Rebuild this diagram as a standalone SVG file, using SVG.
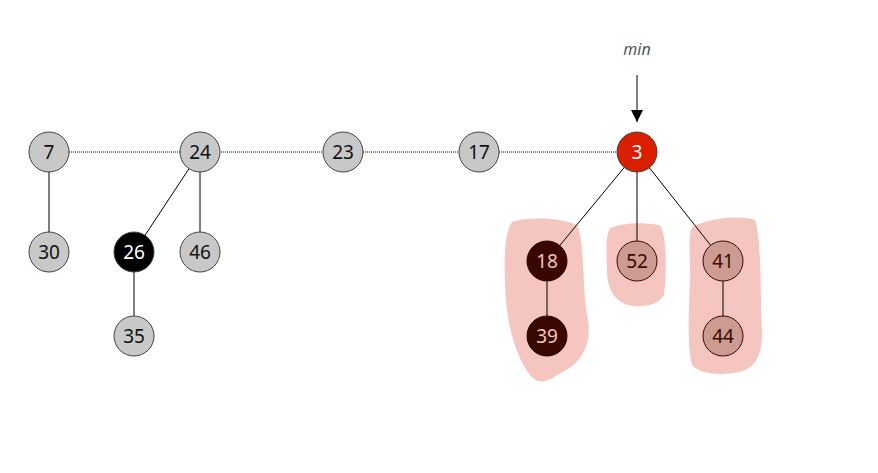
<svg xmlns="http://www.w3.org/2000/svg" width="878" height="473" viewBox="0 0 878 473">
<style>
.blob{fill:#f5c6bf;stroke:none}
.e{stroke:#000;stroke-width:1;fill:none}
.d{stroke:#000;stroke-width:1;stroke-dasharray:1 1;fill:none}
.n circle{stroke:#444;stroke-width:1}
.g circle{fill:#c8c8c8}
.n text{font-family:"Noto Sans","Open Sans",sans-serif;font-size:19px;text-anchor:middle;dominant-baseline:central}
.g text{fill:#111}
.b circle{fill:#000}
.b text{fill:#fff}
.r circle{fill:#d91f00}
.r text{fill:#fff}
.k circle{fill:#3a0700;stroke:#2a0500}
.k text{fill:#f2c6bd}
.p circle{fill:#cc9c93;stroke:#3a0700}
.p text{fill:#3a0700}
</style>
<defs>
<marker id="ah" viewBox="0 0 10 10" refX="10" refY="5" markerWidth="12" markerHeight="12" markerUnits="userSpaceOnUse" orient="auto">
<path d="M0,0 L10,5 L0,10 Z" fill="#000"/>
</marker>
</defs>
<g id="blobs">
<path class="blob" d="M512,222 C530,216 565,218 578,226 C585,250 582,290 588,320 C592,345 580,365 562,372 C550,380 540,387 530,375 C518,360 508,330 506,300 C504,270 503,235 512,222 Z"/>
<path class="blob" d="M610,228 C625,222 650,222 661,226 C668,245 666,280 664,295 C658,306 640,308 628,305 C612,300 606,285 607,265 C606,250 606,235 610,228 Z"/>
<path class="blob" d="M692,227 C710,218 740,215 755,220 C762,240 760,300 762,330 C763,355 755,368 740,372 C720,376 700,374 692,365 C686,340 690,300 690,270 C690,250 688,235 692,227 Z"/>
</g>
<g id="connectors">
<line class="d" x1="49" y1="152" x2="637" y2="152"/>
<line class="e" x1="49" y1="152" x2="49" y2="252"/>
<line class="e" x1="200" y1="152" x2="134" y2="252"/>
<line class="e" x1="200" y1="152" x2="200" y2="252"/>
<line class="e" x1="134" y1="252" x2="134" y2="336"/>
<line class="e" x1="637" y1="152" x2="547" y2="261"/>
<line class="e" x1="637" y1="152" x2="637" y2="261"/>
<line class="e" x1="637" y1="152" x2="723" y2="261"/>
<line class="e" x1="547" y1="261" x2="547" y2="336"/>
<line class="e" x1="723" y1="261" x2="723" y2="336"/>
<line class="e" x1="637" y1="75" x2="637" y2="122" marker-end="url(#ah)"/>
</g>
<text x="637" y="55" font-family="Noto Sans, Open Sans, sans-serif" font-size="16" font-style="italic" fill="#555" text-anchor="middle">min</text>
<g id="n7" class="n g"><circle cx="49" cy="152" r="20"/><text x="49" y="152">7</text></g>
<g id="n24" class="n g"><circle cx="200" cy="152" r="20"/><text x="200" y="152">24</text></g>
<g id="n23" class="n g"><circle cx="343" cy="152" r="20"/><text x="343" y="152">23</text></g>
<g id="n17" class="n g"><circle cx="479" cy="152" r="20"/><text x="479" y="152">17</text></g>
<g id="n3" class="n r"><circle cx="637" cy="152" r="20"/><text x="637" y="152">3</text></g>
<g id="n30" class="n g"><circle cx="49" cy="252" r="20"/><text x="49" y="252">30</text></g>
<g id="n26" class="n b"><circle cx="134" cy="252" r="20"/><text x="134" y="252">26</text></g>
<g id="n46" class="n g"><circle cx="200" cy="252" r="20"/><text x="200" y="252">46</text></g>
<g id="n35" class="n g"><circle cx="134" cy="336" r="20"/><text x="134" y="336">35</text></g>
<g id="n18" class="n k"><circle cx="547" cy="261" r="20"/><text x="547" y="261">18</text></g>
<g id="n39" class="n k"><circle cx="547" cy="336" r="20"/><text x="547" y="336">39</text></g>
<g id="n52" class="n p"><circle cx="637" cy="261" r="20"/><text x="637" y="261">52</text></g>
<g id="n41" class="n p"><circle cx="723" cy="261" r="20"/><text x="723" y="261">41</text></g>
<g id="n44" class="n p"><circle cx="723" cy="336" r="20"/><text x="723" y="336">44</text></g>
</svg>
